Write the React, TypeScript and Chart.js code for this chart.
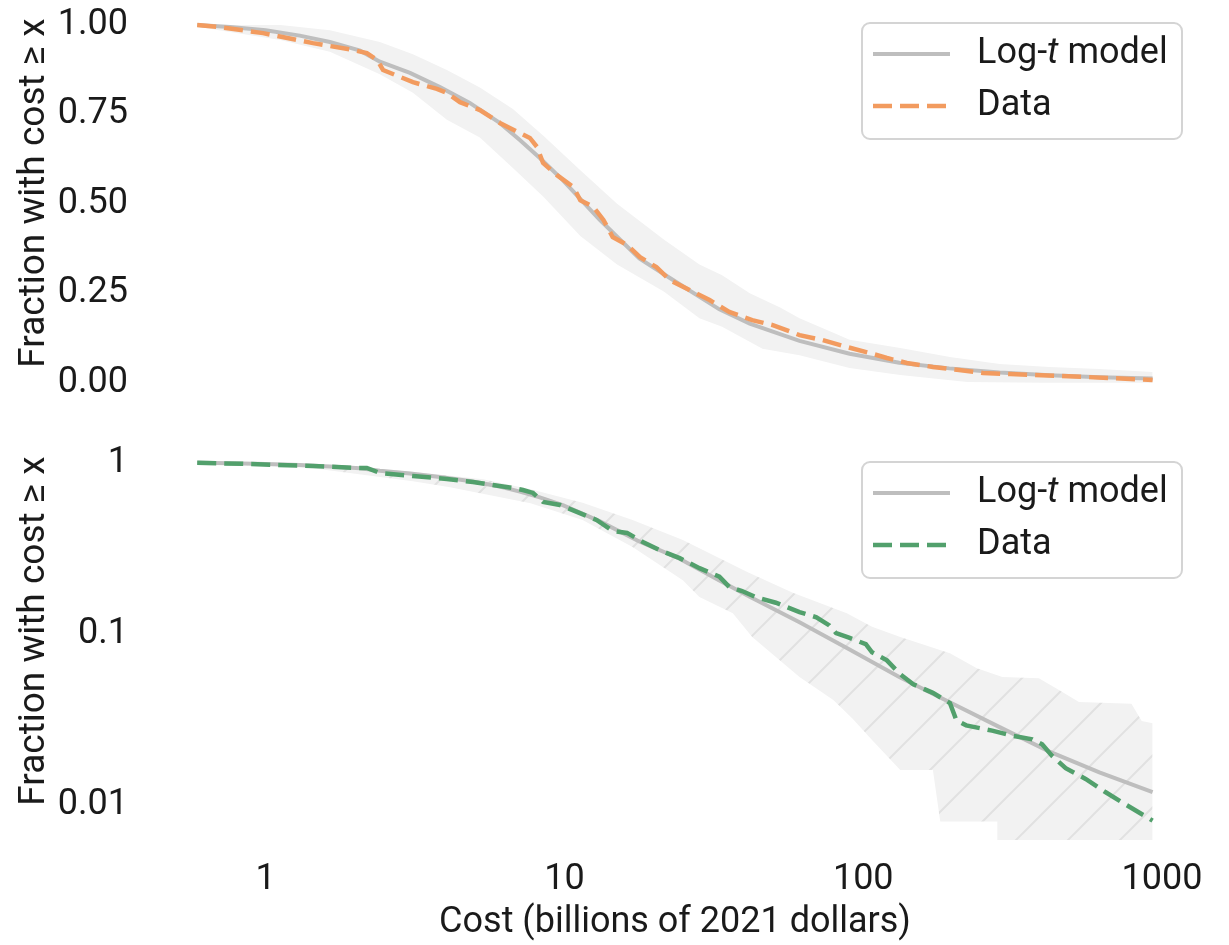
import React, { useEffect, useRef } from "react";
import { Chart, registerables } from "chart.js";

Chart.register(...registerables);

const FONT = "Roboto";
const TEXT = "#1a1a1a";
const FS = 36;
const FS_YTITLE = 37;

// ---- ticks & text ----
const xTickValues = [1, 10, 100, 1000];
const xTickLabels = ["1", "10", "100", "1000"];
const topTickValues = [0, 0.25, 0.5, 0.75, 1];
const topTickLabels = ["0.00", "0.25", "0.50", "0.75", "1.00"];
const bottomTickValues = [0.01, 0.1, 1];
const bottomTickLabels = ["0.01", "0.1", "1"];
const xTitle = "Cost (billions of 2021 dollars)";
const yTitle = "Fraction with cost \u2265 x";
const legendModelParts = ["Log-", "t", " model"];
const legendDataText = "Data";

// ---- model (log-t) survival curve ----
const modelCost = [0.59, 0.76, 1.0, 1.3, 1.64, 2.07, 2.41, 3.04, 3.83, 4.82, 6.07, 7.09, 8.27, 9.87, 13.1, 17.8, 24.3, 33.0, 41.7, 61.2, 90, 132, 194, 286, 420, 617, 930];
const modelFrac = [1.0, 0.994, 0.985, 0.97, 0.952, 0.928, 0.897, 0.866, 0.826, 0.782, 0.726, 0.678, 0.628, 0.566, 0.456, 0.347, 0.275, 0.205, 0.165, 0.117, 0.081, 0.056, 0.040, 0.0285, 0.0205, 0.0155, 0.0119];

// ---- top panel: empirical data ----
const topDataCost = [0.59, 0.70, 0.98, 1.44, 1.96, 2.18, 2.36, 2.47, 3.11, 3.74, 4.04, 4.47, 5.21, 6.08, 6.56, 7.66, 8.09, 8.48, 9.44, 10.7, 11.3, 12.5, 13.5, 14.5, 16.2, 17.9, 20.3, 22.5, 26.2, 30.6, 35.6, 42.5, 49.8, 61.2, 73.1, 88.1, 105, 120, 140, 171, 206, 252, 311, 457, 671, 930];
const topDataFrac = [1.0, 0.994, 0.977, 0.949, 0.930, 0.921, 0.902, 0.874, 0.840, 0.821, 0.810, 0.784, 0.762, 0.726, 0.712, 0.684, 0.659, 0.614, 0.580, 0.547, 0.510, 0.491, 0.455, 0.407, 0.385, 0.351, 0.323, 0.287, 0.259, 0.231, 0.198, 0.175, 0.161, 0.133, 0.119, 0.100, 0.083, 0.069, 0.055, 0.044, 0.036, 0.027, 0.024, 0.019, 0.013, 0.0075];

// ---- top panel: model band ----
const topBandUpperCost = [0.59, 1.12, 1.64, 2.41, 3.11, 4.04, 5.21, 6.72, 8.5, 11.3, 15, 21.5, 28.3, 33.7, 41.7, 52.7, 61.2, 90, 133, 195, 286, 420, 617, 930];
const topBandUpper = [1.0, 1.0, 0.985, 0.952, 0.918, 0.874, 0.825, 0.765, 0.69, 0.594, 0.50, 0.40, 0.33, 0.30, 0.25, 0.21, 0.18, 0.12, 0.097, 0.072, 0.052, 0.044, 0.038, 0.030];
const topBandLowerCost = [0.59, 1.12, 1.64, 2.41, 3.11, 4.04, 5.21, 6.72, 8.5, 11.3, 15, 21.5, 28.3, 33.7, 46, 61.2, 90, 133, 223, 400, 930];
const topBandLower = [0.995, 0.958, 0.925, 0.862, 0.81, 0.735, 0.685, 0.60, 0.52, 0.41, 0.33, 0.255, 0.18, 0.156, 0.095, 0.077, 0.041, 0.0215, 0.002, 0, 0];

// ---- bottom panel: empirical data ----
const botDataCost = [0.59, 0.87, 1.44, 2.02, 2.18, 2.41, 3.11, 4.04, 4.94, 5.76, 6.72, 7.26, 7.85, 8.48, 9.66, 11.0, 12.8, 14.5, 16.2, 18.3, 20.8, 24.3, 28.3, 33.0, 35.6, 39.3, 43.7, 51.0, 61.2, 69.7, 77.0, 81.1, 89.6, 102, 107, 120, 133, 147, 171, 195, 205, 221, 270, 315, 368, 397, 428, 476, 555, 646, 753, 930];
const botDataFrac = [1.0, 0.984, 0.958, 0.932, 0.932, 0.872, 0.837, 0.804, 0.772, 0.742, 0.713, 0.693, 0.666, 0.590, 0.567, 0.516, 0.463, 0.400, 0.389, 0.344, 0.309, 0.277, 0.242, 0.216, 0.188, 0.178, 0.164, 0.152, 0.134, 0.125, 0.112, 0.101, 0.095, 0.087, 0.078, 0.070, 0.058, 0.0508, 0.0452, 0.0394, 0.0313, 0.0292, 0.0272, 0.0254, 0.0242, 0.0226, 0.0194, 0.0164, 0.0142, 0.0119, 0.0101, 0.0081];

// ---- bottom panel: model band ----
const botBandUpperCost = [0.59, 1.44, 3.11, 5.34, 7.7, 11.5, 16.9, 24.9, 40.9, 58.1, 88.1, 107, 133, 195, 240, 292, 387, 452, 527, 790, 855, 930];
const botBandUpper = [1.0, 0.975, 0.885, 0.80, 0.70, 0.583, 0.463, 0.354, 0.230, 0.174, 0.132, 0.110, 0.096, 0.077, 0.063, 0.056, 0.055, 0.047, 0.040, 0.039, 0.031, 0.030];
const botBandLowerCost = [0.59, 1.44, 3.11, 4.14, 7.7, 11.5, 16.9, 24.9, 28.3, 36.6, 42.5, 61.2, 79.4, 92, 107, 133, 171, 181, 281, 281.5, 930];
const botBandLower = [1.0, 0.93, 0.78, 0.72, 0.58, 0.463, 0.322, 0.206, 0.164, 0.132, 0.096, 0.056, 0.041, 0.032, 0.024, 0.016, 0.016, 0.008, 0.008, 0.0001, 0.0001];

const ORANGE = "#F29B5F";
const GREEN = "#52A06C";
const GRAY = "#BEBEBE";
const BAND = "#F2F2F2";
const HATCH = "#E1E1E1";

const pts = (xs: number[], ys: number[]) => xs.map((x, i) => ({ x, y: ys[i] }));

const yTitlePlugin = {
  id: "yTitleText",
  afterDraw(chart: any, _a: any, o: any) {
    const ctx = chart.ctx;
    ctx.save();
    ctx.translate(o.x, o.y);
    ctx.rotate(-Math.PI / 2);
    ctx.font = `${FS_YTITLE}px ${FONT}`;
    ctx.fillStyle = TEXT;
    ctx.textAlign = "center";
    ctx.textBaseline = "alphabetic";
    ctx.fillText(o.text, 0, 0);
    ctx.restore();
  },
};

const boxLegendPlugin = {
  id: "boxLegend",
  afterDraw(chart: any, _a: any, o: any) {
    const ctx = chart.ctx;
    const { left, top, width, height, rows } = o;
    const r = 8;
    ctx.save();
    ctx.beginPath();
    ctx.moveTo(left + r, top);
    ctx.lineTo(left + width - r, top);
    ctx.arcTo(left + width, top, left + width, top + r, r);
    ctx.lineTo(left + width, top + height - r);
    ctx.arcTo(left + width, top + height, left + width - r, top + height, r);
    ctx.lineTo(left + r, top + height);
    ctx.arcTo(left, top + height, left, top + height - r, r);
    ctx.lineTo(left, top + r);
    ctx.arcTo(left, top, left + r, top, r);
    ctx.closePath();
    ctx.fillStyle = "rgba(255,255,255,0.8)";
    ctx.fill();
    ctx.strokeStyle = "#D4D4D4";
    ctx.lineWidth = 2;
    ctx.stroke();
    rows.forEach((row: any) => {
      ctx.beginPath();
      ctx.setLineDash(row.dash || []);
      ctx.lineCap = "butt";
      ctx.strokeStyle = row.color;
      ctx.lineWidth = row.width;
      ctx.moveTo(left + 11, row.y);
      ctx.lineTo(left + 88, row.y);
      ctx.stroke();
      ctx.setLineDash([]);
      let x = left + 115;
      ctx.fillStyle = TEXT;
      ctx.textAlign = "left";
      ctx.textBaseline = "middle";
      row.parts.forEach((p: any) => {
        ctx.font = `${p.italic ? "italic " : ""}${FS}px ${FONT}`;
        ctx.fillText(p.text, x, row.y);
        x += ctx.measureText(p.text).width;
      });
    });
    ctx.restore();
  },
};

function makeHatch(): any {
  const s = 52;
  const c = document.createElement("canvas");
  c.width = s;
  c.height = s;
  const g = c.getContext("2d");
  if (!g) return BAND;
  g.fillStyle = BAND;
  g.fillRect(0, 0, s, s);
  g.strokeStyle = HATCH;
  g.lineWidth = 2;
  g.beginPath();
  g.moveTo(-3, s + 3);
  g.lineTo(s + 3, -3);
  g.moveTo(-3, 3);
  g.lineTo(3, -3);
  g.moveTo(s - 3, s + 3);
  g.lineTo(s + 3, s - 3);
  g.stroke();
  return g.createPattern(c, "repeat") || BAND;
}

const tickFont = { family: FONT, size: FS };

function legendRows(color: string, y0: number) {
  return [
    { y: y0, color: GRAY, width: 4, dash: [], parts: [
      { text: legendModelParts[0], italic: false },
      { text: legendModelParts[1], italic: true },
      { text: legendModelParts[2], italic: false },
    ] },
    { y: y0 + 52, color, width: 4.5, dash: [19, 8], parts: [{ text: legendDataText, italic: false }] },
  ];
}

export default function App() {
  const topRef = useRef<HTMLCanvasElement>(null);
  const botRef = useRef<HTMLCanvasElement>(null);

  useEffect(() => {
    if (!topRef.current || !botRef.current) return;
    const hatch = makeHatch();

    const xCommon = {
      type: "logarithmic" as const,
      min: 0.41,
      max: 1340,
    };

    const top = new Chart(topRef.current, {
      type: "line",
      data: {
        datasets: [
          { data: pts(topDataCost, topDataFrac), borderColor: ORANGE, borderWidth: 4.5, borderDash: [19, 8], pointRadius: 0, fill: false },
          { data: pts(modelCost, modelFrac), borderColor: GRAY, borderWidth: 4, pointRadius: 0, fill: false },
          { data: pts(topBandUpperCost, topBandUpper), borderColor: "rgba(0,0,0,0)", borderWidth: 0, pointRadius: 0, fill: "+1", backgroundColor: BAND },
          { data: pts(topBandLowerCost, topBandLower), borderColor: "rgba(0,0,0,0)", borderWidth: 0, pointRadius: 0, fill: false },
        ],
      },
      options: {
        animation: false,
        responsive: true,
        maintainAspectRatio: false,
        events: [],
        layout: { padding: { top: 45, bottom: 45, left: 0, right: 29 } },
        scales: {
          x: { ...xCommon, display: false },
          y: {
            type: "linear",
            min: -0.04,
            max: 1.05,
            afterFit: (s: any) => { s.width = 150; },
            afterBuildTicks: (s: any) => { s.ticks = topTickValues.map((v) => ({ value: v })); },
            ticks: { padding: 22, font: tickFont, color: TEXT, callback: (_v: any, i: number) => topTickLabels[i] },
            grid: { display: false, drawTicks: false },
            border: { display: false },
          },
        },
        plugins: {
          legend: { display: false },
          tooltip: { enabled: false },
          yTitleText: { text: yTitle, x: 44, y: 231 },
          boxLegend: { left: 862, top: 61, width: 320, height: 116, rows: legendRows(ORANGE, 92) },
        } as any,
      },
      plugins: [yTitlePlugin, boxLegendPlugin] as any,
    });

    const bot = new Chart(botRef.current, {
      type: "line",
      data: {
        datasets: [
          { data: pts(botDataCost, botDataFrac), borderColor: GREEN, borderWidth: 4.5, borderDash: [19, 8], pointRadius: 0, fill: false },
          { data: pts(modelCost, modelFrac), borderColor: GRAY, borderWidth: 4, pointRadius: 0, fill: false },
          { data: pts(botBandUpperCost, botBandUpper), borderColor: "rgba(0,0,0,0)", borderWidth: 0, pointRadius: 0, fill: "+1", backgroundColor: hatch },
          { data: pts(botBandLowerCost, botBandLower), borderColor: "rgba(0,0,0,0)", borderWidth: 0, pointRadius: 0, fill: false },
        ],
      },
      options: {
        animation: false,
        responsive: true,
        maintainAspectRatio: false,
        events: [],
        layout: { padding: { top: 45, bottom: 0, left: 0, right: 29 } },
        scales: {
          x: {
            ...xCommon,
            afterFit: (s: any) => { s.height = 105; },
            afterBuildTicks: (s: any) => { s.ticks = xTickValues.map((v) => ({ value: v })); },
            ticks: { padding: 18, maxRotation: 0, autoSkip: false, font: tickFont, color: TEXT, callback: (_v: any, i: number) => xTickLabels[i] },
            grid: { display: false, drawTicks: false },
            border: { display: false },
            title: { display: true, text: xTitle, font: tickFont, color: TEXT, padding: { top: 0, bottom: 0 } },
          },
          y: {
            type: "logarithmic",
            min: 0.00624,
            max: 1.27,
            afterFit: (s: any) => { s.width = 150; },
            afterBuildTicks: (s: any) => { s.ticks = bottomTickValues.map((v) => ({ value: v })); },
            ticks: { padding: 22, font: tickFont, color: TEXT, callback: (_v: any, i: number) => bottomTickLabels[i] },
            grid: { display: false, drawTicks: false },
            border: { display: false },
          },
        },
        plugins: {
          legend: { display: false },
          tooltip: { enabled: false },
          yTitleText: { text: yTitle, x: 44, y: 231 },
          boxLegend: { left: 862, top: 62, width: 320, height: 116, rows: legendRows(GREEN, 93) },
        } as any,
      },
      plugins: [yTitlePlugin, boxLegendPlugin] as any,
    });

    return () => {
      top.destroy();
      bot.destroy();
    };
  }, []);

  return (
    <div style={{ position: "absolute", left: 0, top: 0, width: 1229, height: 945, overflow: "hidden", background: "#fff" }}>
      <div style={{ position: "absolute", left: 0, top: -38, width: 1229, height: 480 }}>
        <canvas ref={topRef} />
      </div>
      <div style={{ position: "absolute", left: 0, top: 400, width: 1229, height: 545 }}>
        <canvas ref={botRef} />
      </div>
    </div>
  );
}
